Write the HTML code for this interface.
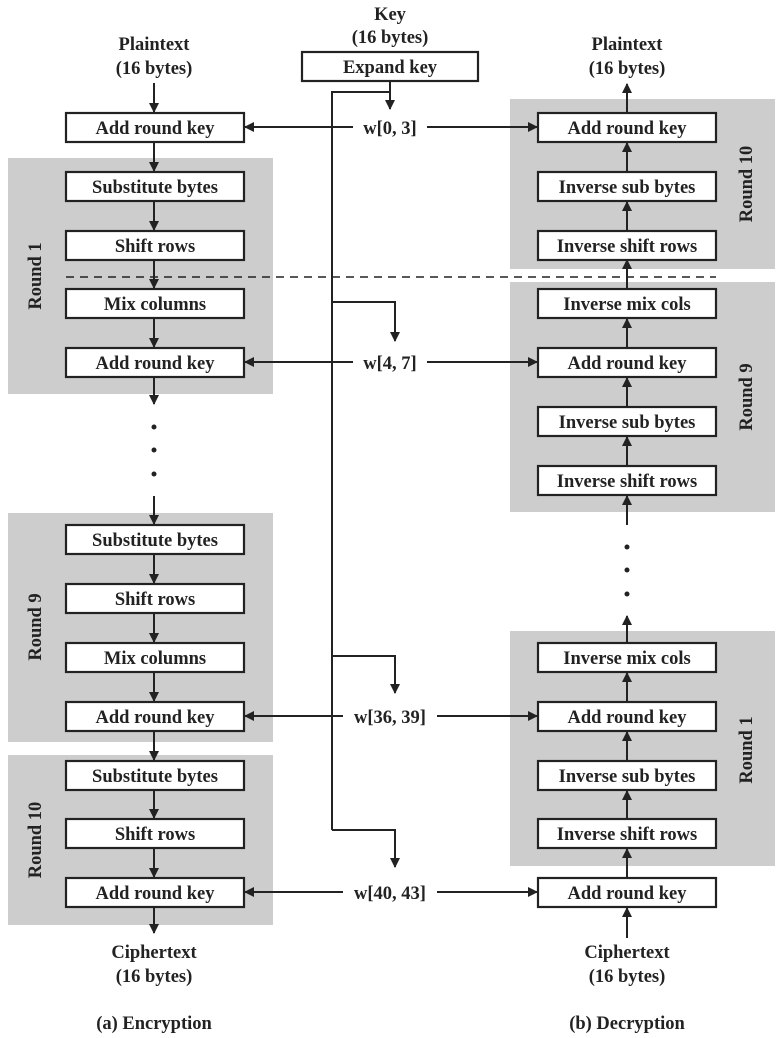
<!DOCTYPE html>
<html><head><meta charset="utf-8"><style>
html,body{margin:0;padding:0;background:#fff;}
svg{display:block}
text{font-family:"Liberation Serif",serif;font-weight:bold;font-size:18.5px;fill:#222;text-anchor:middle}
.b{fill:#fff;stroke:#222;stroke-width:2.2}
.l{stroke:#222;stroke-width:2;fill:none}
.p{fill:#cdcdcd}
</style></head><body>
<svg width="780" height="1038" viewBox="0 0 780 1038" xmlns="http://www.w3.org/2000/svg">
<defs>
<marker id="a" markerWidth="10" markerHeight="10" refX="9" refY="5" orient="auto" markerUnits="userSpaceOnUse">
<path d="M0,0 L10,5 L0,10 z" fill="#222"/></marker>
</defs>
<rect class="p" x="8" y="158" width="265" height="236"/>
<rect class="p" x="8" y="513" width="265" height="229"/>
<rect class="p" x="8" y="755" width="265" height="170"/>
<rect class="p" x="510" y="99" width="265" height="170"/>
<rect class="p" x="510" y="282" width="265" height="230"/>
<rect class="p" x="510" y="631" width="265" height="235"/>

<text transform="translate(41,276) rotate(-90)">Round 1</text>
<text transform="translate(41,627) rotate(-90)">Round 9</text>
<text transform="translate(41,840) rotate(-90)">Round 10</text>
<text transform="translate(752,184) rotate(-90)">Round 10</text>
<text transform="translate(752,397) rotate(-90)">Round 9</text>
<text transform="translate(752,750) rotate(-90)">Round 1</text>

<text x="390" y="20">Key</text>
<text x="390" y="43">(16 bytes)</text>
<text x="154" y="50">Plaintext</text>
<text x="154" y="74">(16 bytes)</text>
<text x="627" y="50">Plaintext</text>
<text x="627" y="74">(16 bytes)</text>

<rect class="b" x="302" y="52" width="176" height="29"/>
<text x="390" y="73">Expand key</text>

<path class="l" d="M390,81 V92 H332 V830"/>
<path class="l" d="M390,92 V109" marker-end="url(#a)"/>
<path class="l" d="M332,302 H395 V341" marker-end="url(#a)"/>
<path class="l" d="M332,656 H395 V693" marker-end="url(#a)"/>
<path class="l" d="M332,830 H395 V867" marker-end="url(#a)"/>

<line x1="66" y1="277" x2="716" y2="277" stroke="#222" stroke-width="1.5" stroke-dasharray="8,6"/>

<g>
<rect class="b" x="66" y="113" width="178" height="29"/><text x="155" y="134">Add round key</text>
<rect class="b" x="66" y="172" width="178" height="29"/><text x="155" y="193">Substitute bytes</text>
<rect class="b" x="66" y="231" width="178" height="29"/><text x="155" y="252">Shift rows</text>
<rect class="b" x="66" y="289" width="178" height="29"/><text x="155" y="310">Mix columns</text>
<rect class="b" x="66" y="348" width="178" height="29"/><text x="155" y="369">Add round key</text>
<rect class="b" x="66" y="525" width="178" height="29"/><text x="155" y="546">Substitute bytes</text>
<rect class="b" x="66" y="584" width="178" height="29"/><text x="155" y="605">Shift rows</text>
<rect class="b" x="66" y="643" width="178" height="29"/><text x="155" y="664">Mix columns</text>
<rect class="b" x="66" y="702" width="178" height="29"/><text x="155" y="723">Add round key</text>
<rect class="b" x="66" y="761" width="178" height="29"/><text x="155" y="782">Substitute bytes</text>
<rect class="b" x="66" y="819" width="178" height="29"/><text x="155" y="840">Shift rows</text>
<rect class="b" x="66" y="878" width="178" height="29"/><text x="155" y="899">Add round key</text>
</g>
<g class="l">
<path d="M154,83 V112" marker-end="url(#a)"/>
<path d="M154,143 V171" marker-end="url(#a)"/>
<path d="M154,202 V230" marker-end="url(#a)"/>
<path d="M154,260 V288" marker-end="url(#a)"/>
<path d="M154,319 V347" marker-end="url(#a)"/>
<path d="M154,378 V404" marker-end="url(#a)"/>
<path d="M154,496 V524" marker-end="url(#a)"/>
<path d="M154,555 V583" marker-end="url(#a)"/>
<path d="M154,614 V642" marker-end="url(#a)"/>
<path d="M154,673 V701" marker-end="url(#a)"/>
<path d="M154,732 V760" marker-end="url(#a)"/>
<path d="M154,791 V818" marker-end="url(#a)"/>
<path d="M154,849 V877" marker-end="url(#a)"/>
<path d="M154,908 V933" marker-end="url(#a)"/>
</g>
<circle cx="154" cy="427" r="2.5" fill="#222"/>
<circle cx="154" cy="450" r="2.5" fill="#222"/>
<circle cx="154" cy="474" r="2.5" fill="#222"/>

<g>
<rect class="b" x="538" y="113" width="178" height="29"/><text x="627" y="134">Add round key</text>
<rect class="b" x="538" y="172" width="178" height="29"/><text x="627" y="193">Inverse sub bytes</text>
<rect class="b" x="538" y="231" width="178" height="29"/><text x="627" y="252">Inverse shift rows</text>
<rect class="b" x="538" y="289" width="178" height="29"/><text x="627" y="310">Inverse mix cols</text>
<rect class="b" x="538" y="348" width="178" height="29"/><text x="627" y="369">Add round key</text>
<rect class="b" x="538" y="407" width="178" height="29"/><text x="627" y="428">Inverse sub bytes</text>
<rect class="b" x="538" y="466" width="178" height="29"/><text x="627" y="487">Inverse shift rows</text>
<rect class="b" x="538" y="643" width="178" height="29"/><text x="627" y="664">Inverse mix cols</text>
<rect class="b" x="538" y="702" width="178" height="29"/><text x="627" y="723">Add round key</text>
<rect class="b" x="538" y="761" width="178" height="29"/><text x="627" y="782">Inverse sub bytes</text>
<rect class="b" x="538" y="819" width="178" height="29"/><text x="627" y="840">Inverse shift rows</text>
<rect class="b" x="538" y="878" width="178" height="29"/><text x="627" y="899">Add round key</text>
</g>
<g class="l">
<path d="M627,112 V84" marker-end="url(#a)"/>
<path d="M627,171 V143" marker-end="url(#a)"/>
<path d="M627,230 V202" marker-end="url(#a)"/>
<path d="M627,288 V260" marker-end="url(#a)"/>
<path d="M627,347 V319" marker-end="url(#a)"/>
<path d="M627,406 V378" marker-end="url(#a)"/>
<path d="M627,465 V437" marker-end="url(#a)"/>
<path d="M627,525 V496" marker-end="url(#a)"/>
<path d="M627,642 V616" marker-end="url(#a)"/>
<path d="M627,701 V673" marker-end="url(#a)"/>
<path d="M627,760 V732" marker-end="url(#a)"/>
<path d="M627,818 V791" marker-end="url(#a)"/>
<path d="M627,877 V849" marker-end="url(#a)"/>
<path d="M627,938 V908" marker-end="url(#a)"/>
</g>
<circle cx="627" cy="547" r="2.5" fill="#222"/>
<circle cx="627" cy="570" r="2.5" fill="#222"/>
<circle cx="627" cy="594" r="2.5" fill="#222"/>

<g>
<text x="390" y="134">w[0, 3]</text>
<text x="390" y="369">w[4, 7]</text>
<text x="390" y="723">w[36, 39]</text>
<text x="390" y="899">w[40, 43]</text>
</g>
<g class="l">
<path d="M353,127 H245" marker-end="url(#a)"/>
<path d="M427,127 H537" marker-end="url(#a)"/>
<path d="M353,362 H245" marker-end="url(#a)"/>
<path d="M427,362 H537" marker-end="url(#a)"/>
<path d="M343,716 H245" marker-end="url(#a)"/>
<path d="M437,716 H537" marker-end="url(#a)"/>
<path d="M343,892 H245" marker-end="url(#a)"/>
<path d="M437,892 H537" marker-end="url(#a)"/>
</g>

<text x="154" y="958">Ciphertext</text>
<text x="154" y="982">(16 bytes)</text>
<text x="627" y="958">Ciphertext</text>
<text x="627" y="982">(16 bytes)</text>
<text x="154" y="1029">(a) Encryption</text>
<text x="627" y="1029">(b) Decryption</text>
</svg>
</body></html>
